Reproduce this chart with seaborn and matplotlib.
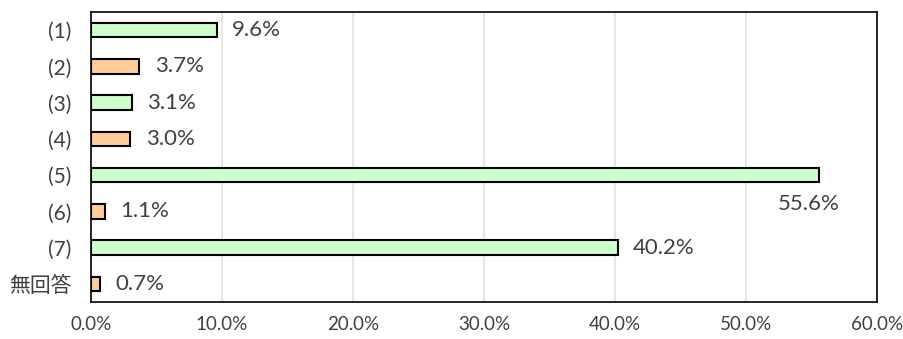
import matplotlib
matplotlib.use("Agg")
import matplotlib.pyplot as plt
import seaborn as sns
import pandas as pd
from matplotlib.ticker import FuncFormatter

categories = ["(1)", "(2)", "(3)", "(4)", "(5)", "(6)", "(7)", "無回答"]
values = [9.6, 3.7, 3.1, 3.0, 55.6, 1.1, 40.2, 0.7]
colors = ["#CCFFCC", "#FFCC99", "#CCFFCC", "#FFCC99", "#CCFFCC", "#FFCC99", "#CCFFCC", "#FFCC99"]
xticks = [0, 10, 20, 30, 40, 50, 60]

sns.set_style("white")
plt.rcParams['font.family'] = ['Lato', 'Noto Sans CJK JP', 'DejaVu Sans']

df = pd.DataFrame({"cat": categories, "val": values})

fig = plt.figure(figsize=(9.04, 3.39), dpi=100)
ax = fig.add_axes([91/904, 1-302/339, (877-91)/904, (302-12)/339])

sns.barplot(data=df, x="val", y="cat", hue="cat", palette=colors, legend=False,
            orient="h", width=0.4, saturation=1, edgecolor="black", linewidth=1.5,
            ax=ax, zorder=3)

ax.set_xlim(0, 60)
ax.set_xticks(xticks)
ax.xaxis.set_major_formatter(FuncFormatter(lambda v, p: f"{v:.1f}%"))
ax.grid(axis="x", color="#E6E1D6", linewidth=1.2, zorder=0)
ax.set_axisbelow(True)
ax.set_xlabel("")
ax.set_ylabel("")
for s in ax.spines.values():
    s.set_color("black")
    s.set_linewidth(1.2)
ax.tick_params(axis="x", length=0, labelsize=13.5, labelcolor="#404040", pad=10)
ax.tick_params(axis="y", length=0, labelsize=15, labelcolor="#404040", pad=14)

for i, v in enumerate(values):
    if v > 50:
        ax.annotate(f"{v:.1f}%", (v, i), xytext=(-8, -21), textcoords="offset points",
                    ha="center", va="center", fontsize=16, color="#404040")
    else:
        ax.annotate(f"{v:.1f}%", (v, i), xytext=(11, 0), textcoords="offset points",
                    ha="left", va="center", fontsize=16, color="#404040")

fig.savefig("out.png", dpi=100)
